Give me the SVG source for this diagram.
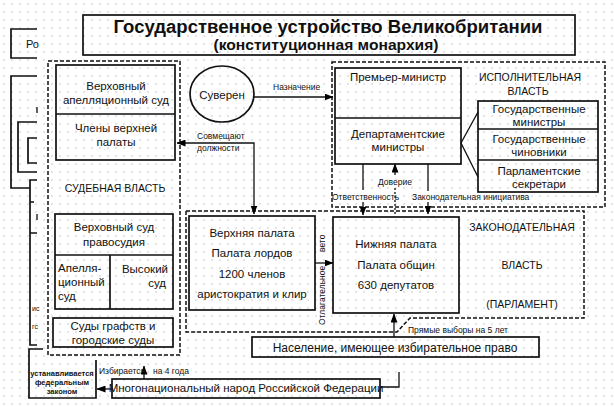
<svg xmlns="http://www.w3.org/2000/svg" width="614" height="406" viewBox="0 0 614 406">
<defs>
<pattern id="dots" width="8" height="8" patternUnits="userSpaceOnUse">
<circle cx="4" cy="4" r="0.7" fill="#b4b4b4"/>
</pattern>
<marker id="ah" markerWidth="9" markerHeight="7" refX="8.5" refY="3.5" orient="auto-start-reverse" markerUnits="userSpaceOnUse">
<path d="M0,0 L9,3.5 L0,7 Z" fill="#000"/>
</marker>
<style>
text{font-family:"Liberation Sans",Arial,sans-serif;fill:#111;}
.t{font-size:11.5px;text-anchor:middle;}
.s{font-size:8.5px;}
.c{font-size:10.5px;text-anchor:middle;}
.box{fill:none;stroke:#111;stroke-width:1.7;}
.dash{fill:none;stroke:#111;stroke-width:1.5;stroke-dasharray:4 2;}
.ln{fill:none;stroke:#111;stroke-width:1.3;}
.lnd{fill:none;stroke:#111;stroke-width:1.3;stroke-dasharray:2 2;}
</style>
</defs>
<rect width="614" height="406" fill="#fff"/>
<rect width="614" height="406" fill="url(#dots)"/>

<g id="leftover">
<path class="box" d="M37,29 H11 V58 H37"/>
<text x="26" y="48" style="font-size:11px">Ро</text>
<path class="box" d="M37,76 H11 V188 H30"/>
<path class="box" d="M37,122 H18 V172 H37"/>
<path class="box" d="M37,138 H28 V163 H37"/>
<path class="box" d="M37,180 H30 V345 H37"/>
<path class="ln" d="M37,107 V113 M37,214 V220 M30,202 H34 M30,233 H37"/>
<text x="32" y="311" style="font-size:7px">ис</text>
<text x="32" y="329" style="font-size:7px">гс</text>
<path class="box" d="M43,349 H29 V398 H96 V360"/>
<text x="62" y="376" style="font-size:7.5px;font-weight:bold;text-anchor:middle">устанавливается</text>
<text x="62" y="385" style="font-size:7.5px;font-weight:bold;text-anchor:middle">федеральным</text>
<text x="62" y="394" style="font-size:7.5px;font-weight:bold;text-anchor:middle">законом</text>
</g>

<g id="title">
<rect class="box" x="83" y="15" width="492" height="40"/>
<text x="328" y="33" style="font-size:17.5px;font-weight:bold;text-anchor:middle" textLength="429" lengthAdjust="spacingAndGlyphs">Государственное устройство Великобритании</text>
<text x="326" y="50" style="font-size:14.5px;font-weight:bold;text-anchor:middle" textLength="225" lengthAdjust="spacingAndGlyphs">(конституционная монархия)</text>
</g>

<g id="judicial">
<rect class="dash" x="48" y="61" width="132" height="294"/>
<text x="115" y="192" class="c">СУДЕБНАЯ ВЛАСТЬ</text>
</g>
<g id="supreme-appeal">
<rect class="box" x="56" y="65" width="119" height="95"/>
<line class="box" x1="56" y1="114" x2="175" y2="114"/>
<text x="116" y="90" class="t">Верховный</text>
<text x="116" y="104" class="t">апелляционный суд</text>
<text x="116" y="132" class="t">Члены верхней</text>
<text x="116" y="146" class="t">палаты</text>
</g>
<g id="supreme-justice">
<rect class="box" x="55" y="214" width="118" height="95"/>
<line class="box" x1="55" y1="255" x2="173" y2="255"/>
<line class="box" x1="110" y1="255" x2="110" y2="309"/>
<text x="114" y="231" class="t">Верховный суд</text>
<text x="114" y="246" class="t">правосудия</text>
<text x="58" y="272" style="font-size:11.5px">Апелля-</text>
<text x="58" y="286" style="font-size:11.5px">ционный</text>
<text x="58" y="300" style="font-size:11.5px">суд</text>
<text x="168" y="273" style="font-size:11.5px;text-anchor:end">Высокий</text>
<text x="166" y="287" style="font-size:11.5px;text-anchor:end">суд</text>
</g>
<g id="county-courts">
<rect class="box" x="53" y="318" width="120" height="29"/>
<text x="113" y="330" class="t">Суды графств и</text>
<text x="113" y="344" class="t">городские суды</text>
</g>

<g id="sovereign">
<ellipse class="box" cx="222" cy="94" rx="32" ry="28"/>
<text x="222" y="99" class="t">Суверен</text>
</g>

<g id="executive">
<rect class="dash" x="332" y="62" width="273" height="145"/>
<text x="530" y="81" class="c">ИСПОЛНИТЕЛЬНАЯ</text>
<text x="528" y="95" class="c">ВЛАСТЬ</text>
</g>
<g id="cabinet">
<rect class="box" x="335" y="68" width="126" height="96"/>
<line class="box" x1="335" y1="118" x2="461" y2="118"/>
<text x="398" y="81" class="t">Премьер-министр</text>
<text x="398" y="138" class="t">Департаментские</text>
<text x="398" y="151" class="t">министры</text>
</g>
<g id="ministers">
<rect class="box" x="478" y="101" width="120" height="91"/>
<line class="box" x1="478" y1="129" x2="598" y2="129"/>
<line class="box" x1="478" y1="160" x2="598" y2="160"/>
<text x="539" y="113" class="t">Государственные</text>
<text x="539" y="126" class="t">министры</text>
<text x="539" y="143" class="t">Государственные</text>
<text x="539" y="156" class="t">чиновники</text>
<text x="539" y="175" class="t">Парламентские</text>
<text x="539" y="188" class="t">секретари</text>
</g>

<g id="legislative">
<path class="dash" d="M186,211 H584 V318 H410 L397,332 H186 Z"/>
<text x="522" y="231" class="c">ЗАКОНОДАТЕЛЬНАЯ</text>
<text x="522" y="269" class="c">ВЛАСТЬ</text>
<text x="522" y="308" class="c">(ПАРЛАМЕНТ)</text>
</g>
<g id="lords">
<rect class="box" x="189" y="216" width="126" height="94"/>
<text x="252" y="237" class="t">Верхняя палата</text>
<text x="252" y="257" class="t">Палата лордов</text>
<text x="252" y="278" class="t">1200 членов</text>
<text x="252" y="298" class="t">аристократия и клир</text>
</g>
<g id="commons">
<rect class="box" x="333" y="217" width="126" height="96"/>
<text x="396" y="248" class="t">Нижняя палата</text>
<text x="396" y="269" class="t">Палата общин</text>
<text x="396" y="289" class="t">630 депутатов</text>
</g>

<g id="electorate">
<rect class="box" x="252" y="337" width="287" height="20"/>
<text x="395" y="352" style="font-size:12px;text-anchor:middle">Население, имеющее избирательное право</text>
</g>
<g id="people">
<rect class="box" x="112" y="379" width="268" height="19"/>
<text x="246" y="392" style="font-size:11.5px;text-anchor:middle">Многонациональный народ Российской Федерации</text>
</g>

<g id="connectors">
<line class="ln" x1="254" y1="97" x2="333" y2="97" marker-end="url(#ah)"/>
<text x="273" y="90" class="s">Назначение</text>
<path class="ln" d="M254,214 V143 H177" marker-start="url(#ah)" marker-end="url(#ah)"/>
<text x="197" y="139" class="s">Совмещают</text>
<text x="197" y="151" class="s">должности</text>
<line class="ln" x1="315" y1="263" x2="333" y2="263" marker-end="url(#ah)"/>
<text transform="translate(325,325) rotate(-90)" class="s">Отлагательное</text>
<text transform="translate(325,252) rotate(-90)" class="s">вето</text>
<line class="ln" x1="363" y1="164" x2="363" y2="190"/>
<line class="ln" x1="363" y1="202" x2="363" y2="215" marker-end="url(#ah)"/>
<text x="332" y="200" class="s">Ответственность</text>
<line class="ln" x1="395" y1="175" x2="395" y2="164" marker-end="url(#ah)"/>
<line class="lnd" x1="395" y1="188" x2="395" y2="215"/>
<text x="378" y="185" class="s">Доверие</text>
<line class="ln" x1="428" y1="164" x2="428" y2="191"/>
<line class="ln" x1="428" y1="202" x2="428" y2="214" marker-end="url(#ah)"/>
<text x="412" y="200" class="s">Законодательная инициатива</text>
<path class="ln" d="M478,112 L461,143 L478,177"/>
<line class="ln" x1="394" y1="337" x2="394" y2="314" marker-end="url(#ah)"/>
<text x="408" y="333" class="s">Прямые выборы на 5 лет</text>
<line class="ln" x1="112" y1="389" x2="97" y2="389" marker-end="url(#ah)"/>
<line class="ln" x1="144" y1="379" x2="144" y2="366" marker-end="url(#ah)"/>
<text x="99" y="374" class="s">Избирается</text>
<text x="153" y="374" class="s">на 4 года</text>
<path class="ln" d="M380,387 H399 V372"/>
</g>
</svg>
